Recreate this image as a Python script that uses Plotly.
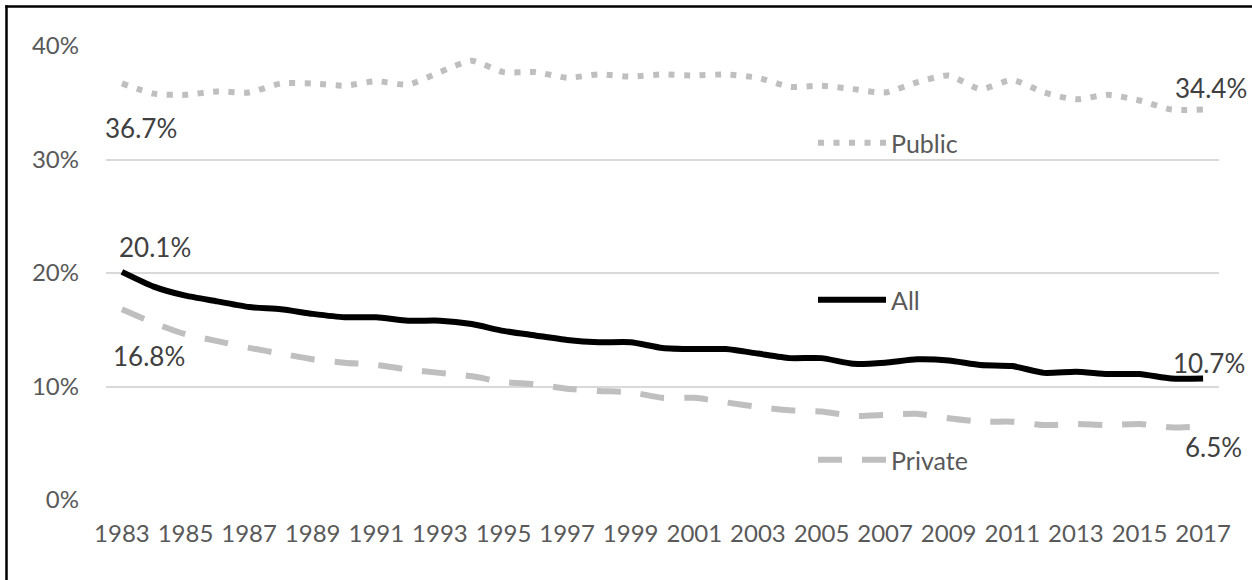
import plotly.graph_objects as go

years = list(range(1983, 2018))
all_rate = [20.1, 18.8, 18.0, 17.5, 17.0, 16.8, 16.4, 16.1, 16.1, 15.8, 15.8, 15.5, 14.9, 14.5, 14.1, 13.9, 13.9,
            13.4, 13.3, 13.3, 12.9, 12.5, 12.5, 12.0, 12.1, 12.4, 12.3, 11.9, 11.8, 11.2, 11.3, 11.1, 11.1, 10.7, 10.7]
private_rate = [16.8, 15.6, 14.6, 14.0, 13.4, 12.9, 12.4, 12.1, 11.9, 11.5, 11.2, 10.9, 10.4, 10.2, 9.8, 9.6, 9.5,
                9.0, 9.0, 8.6, 8.2, 7.9, 7.8, 7.4, 7.5, 7.6, 7.2, 6.9, 6.9, 6.6, 6.7, 6.6, 6.7, 6.4, 6.5]
public_rate = [36.7, 35.8, 35.7, 36.0, 35.9, 36.7, 36.7, 36.5, 36.9, 36.6, 37.7, 38.7, 37.7, 37.7, 37.2, 37.5, 37.3,
               37.5, 37.4, 37.5, 37.2, 36.4, 36.5, 36.2, 35.9, 36.8, 37.4, 36.2, 37.0, 35.9, 35.3, 35.7, 35.2, 34.4, 34.4]
tick_years = list(range(1983, 2018, 2))
y_ticks = [0, 10, 20, 30, 40]

FONT = "Lato"
TICK_COLOR = "#595959"
LABEL_COLOR = "#404040"
GRAY = "#bfbfbf"

L, R, T, B = 106, 33, 46, 80
W, H = 1252, 580
PW, PH = W - L - R, H - T - B

def px_x(p):
    return (p - L) / PW

def px_y(p):
    return (H - B - p) / PH

fig = go.Figure()
fig.add_trace(go.Scatter(x=years, y=public_rate, name="Public", mode="lines",
                         line=dict(color=GRAY, width=6, dash="6px,9.5px", shape="spline", smoothing=0.6),
                         legend="legend"))
fig.add_trace(go.Scatter(x=years, y=all_rate, name="All", mode="lines",
                         line=dict(color="black", width=6, shape="spline", smoothing=0.6),
                         legend="legend2"))
fig.add_trace(go.Scatter(x=years, y=private_rate, name="Private", mode="lines",
                         line=dict(color=GRAY, width=6, dash="24px,20px", shape="spline", smoothing=0.6),
                         legend="legend3"))

lab_font = dict(family=FONT, size=26, color=LABEL_COLOR)
labels = [
    (years[0], public_rate[0], 19, -45),
    (years[0], all_rate[0], 33, 25),
    (years[0], private_rate[0], 27, -47),
    (years[-1], public_rate[-1], 8, 22),
    (years[-1], all_rate[-1], 6, 16),
    (years[-1], private_rate[-1], 10, -21),
]
for x, y, xs, ys in labels:
    fig.add_annotation(x=x, y=y, text=f"{y:.1f}%", showarrow=False, xshift=xs, yshift=ys,
                       font=lab_font, xanchor="center", yanchor="middle")

leg_common = dict(xanchor="left", yanchor="middle", bgcolor="rgba(0,0,0,0)", itemwidth=68,
                  font=dict(family=FONT, size=25, color=TICK_COLOR), borderwidth=0)
fig.update_layout(
    legend=dict(x=px_x(813), y=px_y(143), **leg_common),
    legend2=dict(x=px_x(813), y=px_y(300), **leg_common),
    legend3=dict(x=px_x(813), y=px_y(460), **leg_common),
)

# outer frame (left and top edges visible in the crop)
fig.add_shape(type="line", xref="paper", yref="paper", x0=px_x(6.5), x1=px_x(6.5), y0=px_y(5.3), y1=px_y(600),
              line=dict(color="black", width=2.5))
fig.add_shape(type="line", xref="paper", yref="paper", x0=px_x(5.3), x1=px_x(1270), y0=px_y(6.5), y1=px_y(6.5),
              line=dict(color="black", width=2.5))

fig.update_layout(
    width=W, height=H,
    margin=dict(l=L, r=R, t=T, b=B, pad=0),
    paper_bgcolor="white", plot_bgcolor="white",
    showlegend=True,
    font=dict(family=FONT, size=24, color=TICK_COLOR),
)
fig.update_xaxes(range=[1982.5, 2017.5], tickmode="array", tickvals=tick_years,
                 ticktext=[str(y) for y in tick_years], showgrid=False, zeroline=False,
                 showline=False, ticks="", ticklabelstandoff=17,
                 tickfont=dict(family=FONT, size=24, color=TICK_COLOR))
fig.update_yaxes(range=[0, 40], tickmode="array", tickvals=y_ticks,
                 ticktext=[f"{v}%" for v in y_ticks], showgrid=True, gridcolor="#d9d9d9", gridwidth=1.5,
                 zeroline=False, showline=False, ticks="", ticklabelstandoff=26,
                 tickfont=dict(family=FONT, size=24, color=TICK_COLOR))

fig.write_html("out.html", config={"displayModeBar": False},
               post_script="document.body.style.margin='0px';")
